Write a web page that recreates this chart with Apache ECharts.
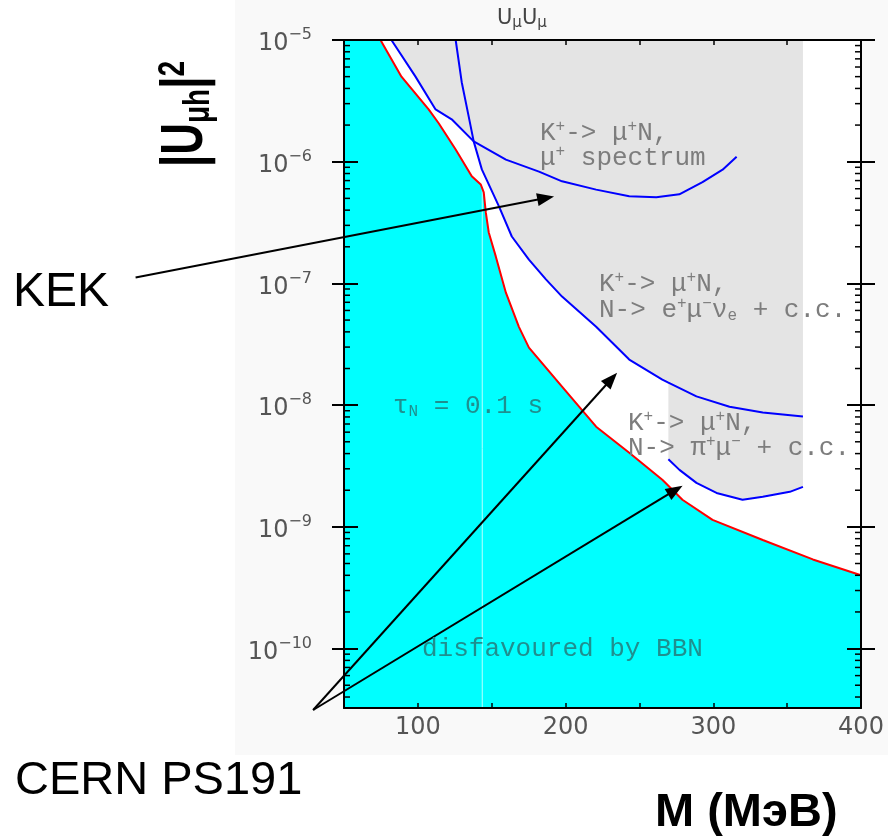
<!DOCTYPE html>
<html><head><meta charset="utf-8">
<script src="https://cdn.jsdelivr.net/npm/echarts@6/dist/echarts.min.js"></script>
<style>html,body{margin:0;padding:0;background:#fff}#c{width:888px;height:838px}</style>
</head><body><div id="c"></div>
<script>
// ---- axis set-up ----
const X_MIN = 50, X_MAX = 400, X_STEP = 50;
const Y_MIN = 3.25e-11, Y_MAX = 1e-5;
const xTickLabels = [100, 200, 300, 400];
const yTickExponents = [-5, -6, -7, -8, -9, -10];

// ---- data: [M (MeV), |U|^2] ----
const bbnBound = [
  [74.7, 1e-5], [88.9, 5.0e-6], [107.3, 2.69e-6], [114.1, 2.07e-6], [125.6, 1.26e-6],
  [136.5, 7.6e-7], [142.6, 6.5e-7], [144.6, 5.6e-7], [146.0, 3.83e-7], [148.0, 2.62e-7],
  [152.8, 1.66e-7], [159.6, 8.4e-8], [168.4, 4.4e-8], [175.2, 2.97e-8], [197.6, 1.42e-8],
  [220.7, 6.65e-9], [243.1, 4.07e-9], [265.5, 2.44e-9], [279.1, 1.67e-9], [299.5, 1.14e-9],
  [333.5, 7.8e-10], [367.4, 5.4e-10], [400, 4.0e-10]
];
const muSpectrum = [
  [82.1, 1e-5], [98.4, 5.0e-6], [112.0, 2.69e-6], [122.9, 2.23e-6], [137.8, 1.47e-6],
  [159.6, 1.04e-6], [182.0, 8.3e-7], [197.6, 6.9e-7], [220.7, 5.9e-7], [243.1, 5.2e-7],
  [261.4, 5.1e-7], [277.0, 5.4e-7], [292.7, 6.8e-7], [306.3, 8.6e-7], [315.8, 1.10e-6]
];
const emuNu = [
  [125.6, 1e-5], [129.7, 4.5e-6], [134.4, 2.36e-6], [137.8, 1.47e-6], [143.3, 8.65e-7],
  [154.9, 4.3e-7], [163.6, 2.43e-7], [175.2, 1.57e-7], [186.7, 1.08e-7], [197.6, 7.8e-8],
  [220.7, 4.4e-8], [243.1, 2.37e-8], [265.5, 1.62e-8], [269.6, 1.53e-8], [288.6, 1.18e-8],
  [311.0, 9.7e-9], [333.5, 8.7e-9], [360.7, 8.05e-9]
];
const piMu = [
  [269.6, 3.6e-9], [277.1, 2.94e-9], [288.6, 2.30e-9], [302.2, 1.90e-9], [319.8, 1.67e-9],
  [333.5, 1.77e-9], [351.8, 1.94e-9], [360.7, 2.13e-9]
];
const crossX = 137.8;               // where the two upper limit curves cross
const tauLine = [[143.6, 6.0e-7], [143.6, Y_MIN]];
const arrows = [                    // [fromX, fromY, toX, toY]
  [-91.1, 1.12e-7, 192.2, 5.19e-7],
  [29.1, 3.13e-11, 234.9, 1.85e-8],
  [29.1, 3.13e-11, 279.2, 2.18e-9]
];

// ---- derived shapes ----
const cyanPoly = [[X_MIN, Y_MAX], ...bbnBound, [X_MAX, Y_MIN], [X_MIN, Y_MIN]];
const greyPoly = [
  ...muSpectrum.filter(p => p[0] <= crossX),
  ...emuNu.filter(p => p[0] > crossX && p[0] <= piMu[0][0]),
  ...piMu,
  [piMu[piMu.length - 1][0], Y_MAX],
  [muSpectrum[0][0], Y_MAX]
];
const minorTicks = [];
for (let n = -11; n <= -6; n++) for (let k = 2; k <= 9; k++) {
  const v = k * Math.pow(10, n);
  if (v > Y_MIN && v < Y_MAX) minorTicks.push([X_MIN, v]);
}
const decades = yTickExponents.map(e => Math.pow(10, e));

function polySeries(points, color, z) {
  return {
    type: 'custom', coordinateSystem: 'cartesian2d', xAxisIndex: 0, yAxisIndex: 0,
    z: z, silent: true, clip: true, data: [points[0]],
    renderItem: (params, api) => ({
      type: 'polygon', shape: { points: points.map(p => api.coord(p)) },
      style: { fill: color, stroke: null }
    })
  };
}
function lineSeries(data, color, width, z) {
  return { type: 'line', data: data, showSymbol: false, symbol: 'none', silent: true,
    lineStyle: { color: color, width: width }, z: z, animation: false };
}

const MONO = 'Liberation Mono';
const GREY_TXT = '#7d7d7d';
const TEAL = '#1f8f8f';
function richSet(fam, size, col) {
  const s = Math.round(size * 0.6);
  return {
    p: { fontFamily: fam, fontSize: s, fill: col, padding: [0, 0, 12, 0] },
    sb: { fontFamily: fam, fontSize: s, fill: col, padding: [12, 0, 0, 0] }
  };
}
function T(x, y, text, o) {
  o = o || {};
  const fam = o.family || MONO, size = o.size || 26, col = o.color || GREY_TXT;
  return {
    type: 'text', x: x, y: y, z: 40, rotation: o.rotation || 0,
    scaleX: o.scaleX || 1, scaleY: o.scaleY || 1, silent: true,
    style: {
      text: text, fontFamily: fam, fontSize: size, fontWeight: o.weight || 'normal',
      fill: col, align: o.align || 'left', textAlign: o.align || 'left',
      verticalAlign: 'middle', textVerticalAlign: 'middle',
      rich: o.rich || richSet(fam, size, col)
    }
  };
}

const chart = echarts.init(document.getElementById('c'), null, { renderer: 'canvas' });
const yBase = {
  type: 'log', logBase: 10, min: Y_MIN, max: Y_MAX, splitLine: { show: false },
  axisLine: { onZero: false, lineStyle: { color: '#000', width: 2 } }, z: 10
};
const xBase = {
  type: 'value', min: X_MIN, max: X_MAX, interval: X_STEP, splitLine: { show: false },
  axisLine: { onZero: false, lineStyle: { color: '#000', width: 2 } },
  axisTick: { inside: true, length: 5, lineStyle: { color: '#000', width: 1.5 } }, z: 10
};

chart.setOption({
  animation: false,
  backgroundColor: '#ffffff',
  grid: { left: 344, right: 27, top: 40, bottom: 130, containLabel: false, outerBoundsMode: 'none',
          show: true, backgroundColor: '#ffffff', borderWidth: 0 },
  xAxis: [
    Object.assign({}, xBase, { position: 'bottom',
      axisLabel: { customValues: xTickLabels, fontFamily: 'DejaVu Sans', fontSize: 24, color: '#555', margin: 8 } }),
    Object.assign({}, xBase, { position: 'top', axisLabel: { show: false } })
  ],
  yAxis: [
    Object.assign({}, yBase, { position: 'left',
      axisTick: { inside: true, length: 14, customValues: decades, lineStyle: { color: '#000', width: 2 } },
      axisLabel: {
        customValues: decades, margin: 32,
        formatter: v => {
          const e = Math.round(Math.log10(v));
          return '{b|10}{s|\u2212' + (-e) + '}';
        },
        rich: {
          b: { fontFamily: 'DejaVu Sans', fontSize: 24, color: '#555', padding: [8, 0, 0, 0] },
          s: { fontFamily: 'DejaVu Sans', fontSize: 16, color: '#555', padding: [0, 0, 10, 0] }
        }
      } }),
    Object.assign({}, yBase, { position: 'left', axisLine: { show: false },
      axisTick: { inside: false, length: 12, customValues: decades, lineStyle: { color: '#000', width: 2 } },
      axisLabel: { show: false } }),
    Object.assign({}, yBase, { position: 'right',
      axisTick: { inside: true, length: 14, customValues: decades, lineStyle: { color: '#000', width: 2 } },
      axisLabel: { show: false } }),
    Object.assign({}, yBase, { position: 'right', axisLine: { show: false },
      axisTick: { inside: false, length: 14, customValues: decades, lineStyle: { color: '#000', width: 2 } },
      axisLabel: { show: false } })
  ],
  series: [
    polySeries(cyanPoly, '#00ffff', 1),
    polySeries(greyPoly, '#e4e4e4', 1),
    lineSeries(tauLine, '#b8ffff', 1, 2),
    lineSeries(bbnBound, '#ff0000', 2, 3),
    lineSeries(muSpectrum, '#0000ff', 2, 3),
    lineSeries(emuNu, '#0000ff', 2, 3),
    lineSeries(piMu, '#0000ff', 2, 3),
    {
      type: 'custom', coordinateSystem: 'cartesian2d', z: 12, silent: true, clip: false,
      data: minorTicks,
      renderItem: (params, api) => {
        const v = api.value(1);
        const l = api.coord([X_MIN, v]), r = api.coord([X_MAX, v]);
        return { type: 'group', children: [
          { type: 'line', shape: { x1: l[0], y1: l[1], x2: l[0] + 6, y2: l[1] }, style: { stroke: '#000', lineWidth: 1.5 } },
          { type: 'line', shape: { x1: r[0] - 6, y1: r[1], x2: r[0], y2: r[1] }, style: { stroke: '#000', lineWidth: 1.5 } }
        ] };
      }
    },
    {
      type: 'custom', coordinateSystem: 'cartesian2d', z: 30, silent: true, clip: false,
      data: arrows,
      renderItem: (params, api) => {
        const p0 = api.coord([api.value(0), api.value(1)]);
        const p1 = api.coord([api.value(2), api.value(3)]);
        const dx = p1[0] - p0[0], dy = p1[1] - p0[1], len = Math.hypot(dx, dy);
        const ux = dx / len, uy = dy / len, L = 17, W = 6.5;
        const bx = p1[0] - ux * L, by = p1[1] - uy * L;
        return { type: 'group', children: [
          { type: 'line', shape: { x1: p0[0], y1: p0[1], x2: bx + ux * 2, y2: by + uy * 2 }, style: { stroke: '#000', lineWidth: 2 } },
          { type: 'polygon', shape: { points: [p1, [bx - uy * W, by + ux * W], [bx + uy * W, by - ux * W]] }, style: { fill: '#000' } }
        ] };
      }
    }
  ],
  graphic: { elements: [
    { type: 'rect', z: -10, silent: true, shape: { x: 235, y: 0, width: 653, height: 755 }, style: { fill: '#f9f9f9' } },
    T(497, 19, 'U{sb|\u03bc}U{sb|\u03bc}', { family: 'DejaVu Sans', size: 21, color: '#444',
      rich: { sb: { fontFamily: 'DejaVu Sans', fontSize: 15, fill: '#444', padding: [9, 0, 0, 0] } } }),
    T(540, 133, 'K{p|+}-> \u03bc{p|+}N,'),
    T(540, 158, '\u03bc{p|+} spectrum'),
    T(599, 284, 'K{p|+}-> \u03bc{p|+}N,'),
    T(599, 310, 'N-> e{p|+}\u03bc{p|\u2212}\u03bd{sb|e} + c.c.'),
    T(628, 423, 'K{p|+}-> \u03bc{p|+}N,'),
    T(628, 448, 'N-> \u03c0{p|+}\u03bc{p|\u2212} + c.c.'),
    T(393, 406, '\u03c4{sb|N} = 0.1 s', { color: TEAL }),
    T(422, 649, 'disfavoured by BBN', { color: TEAL }),
    T(13, 293, 'KEK', { family: 'Liberation Sans', size: 48, color: '#000' }),
    T(15, 781, 'CERN PS191', { family: 'Liberation Sans', size: 47, color: '#000' }),
    T(655, 813, 'M (\u041c\u044d\u0412)', { family: 'Liberation Sans', size: 47, color: '#000', weight: 'bold' }),
    T(186, 114, '|U{sb|\u03bch}|{p|2}', { family: 'Liberation Sans', size: 44, color: '#000', weight: 'bold',
      align: 'center', rotation: Math.PI / 2, scaleY: 1.35,
      rich: {
        sb: { fontFamily: 'Liberation Sans', fontSize: 28, fontWeight: 'bold', fill: '#000', padding: [18, 0, 0, 0] },
        p: { fontFamily: 'Liberation Sans', fontSize: 28, fontWeight: 'bold', fill: '#000', padding: [0, 0, 18, 0] }
      } })
  ] }
});
</script></body></html>
